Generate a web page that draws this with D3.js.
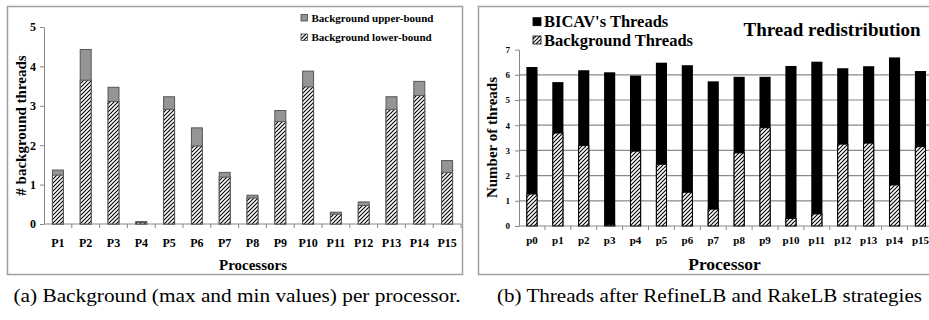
<!DOCTYPE html>
<html>
<head>
<meta charset="utf-8">
<script src="https://cdn.jsdelivr.net/npm/d3@7"></script>
<style>
  body { margin: 0; background: #fff; }
</style>
</head>
<body>
<div id="chart"></div>
<script>
// (a) background per processor
const leftCats = ["P1","P2","P3","P4","P5","P6","P7","P8","P9","P10","P11","P12","P13","P14","P15"];
const upperBound = [1.37, 4.43, 3.47, 0.06, 3.23, 2.44, 1.31, 0.73, 2.88, 3.88, 0.30, 0.56, 3.23, 3.62, 1.61];
const lowerBound = [1.24, 3.65, 3.11, 0.04, 2.91, 1.98, 1.19, 0.66, 2.60, 3.48, 0.25, 0.47, 2.91, 3.26, 1.31];
const leftTicks = [0, 1, 2, 3, 4, 5];

// (b) threads after RefineLB and RakeLB
const rightCats = ["p0","p1","p2","p3","p4","p5","p6","p7","p8","p9","p10","p11","p12","p13","p14","p15"];
const totalThreads = [6.31, 5.71, 6.18, 6.10, 5.97, 6.48, 6.38, 5.74, 5.92, 5.92, 6.35, 6.52, 6.26, 6.34, 6.69, 6.15];
const backgroundThreads = [1.27, 3.69, 3.19, 0.05, 2.97, 2.45, 1.34, 0.67, 2.90, 3.90, 0.30, 0.48, 3.25, 3.29, 1.63, 3.15];
const rightTicks = [0, 1, 2, 3, 4, 5, 6, 7];

const serif = "'Liberation Serif', 'Times New Roman', serif";

const svg = d3.select("#chart").append("svg")
    .attr("width", 929)
    .attr("height", 320);

// hatch pattern for the "lower-bound" / "background" parts
svg.append("defs").append("pattern")
    .attr("id", "hatch")
    .attr("patternUnits", "userSpaceOnUse")
    .attr("width", 4)
    .attr("height", 4)
    .call(p => {
        p.append("rect").attr("width", 4).attr("height", 4).attr("fill", "#fff");
        p.append("path")
            .attr("d", "M-1,1 l2,-2 M0,4 l4,-4 M3,5 l2,-2")
            .attr("stroke", "#000")
            .attr("stroke-width", 1.1);
    });

// panel frames
svg.append("rect").attr("x", 7.5).attr("y", 6.5).attr("width", 455).attr("height", 268)
    .attr("fill", "none").attr("stroke", "#a0a0a0").attr("stroke-width", 1.5);
svg.append("rect").attr("x", 478.5).attr("y", 6.5).attr("width", 470).attr("height", 268)
    .attr("fill", "none").attr("stroke", "#a0a0a0").attr("stroke-width", 1.5);

// ---------- left chart ----------
const lx = d3.scaleBand().domain(leftCats).range([44, 461]).paddingInner(0.57).paddingOuter(0.285);
const ly = d3.scaleLinear().domain([0, 5]).range([224, 27]);
const left = svg.append("g");

left.append("g")
    .attr("transform", "translate(44,0)")
    .call(d3.axisLeft(ly).tickValues(leftTicks).tickSize(4).tickPadding(4).tickSizeOuter(0).tickFormat(d3.format("d")))
    .call(g => g.selectAll("line,path").attr("stroke", "#888"))
    .selectAll("text")
    .attr("font-size", "12px").attr("font-weight", "bold").attr("fill", "#000");

// x axis with ticks between categories
const lAxis = left.append("g").attr("transform", "translate(0,224)");
lAxis.append("line").attr("x1", 44).attr("x2", 461).attr("stroke", "#888");
lAxis.selectAll(".tk").data(leftCats).enter().append("line")
    .attr("x1", d => lx(d) - lx.step() * 0.285 + lx.step())
    .attr("x2", d => lx(d) - lx.step() * 0.285 + lx.step())
    .attr("y1", 0).attr("y2", 4).attr("stroke", "#888");
lAxis.selectAll("text").data(leftCats).enter().append("text")
    .attr("x", d => lx(d) + lx.bandwidth() / 2)
    .attr("y", 23)
    .attr("text-anchor", "middle")
    .attr("font-size", "12px").attr("font-weight", "bold")
    .text(d => d);

left.selectAll(".upper").data(leftCats).enter().append("rect")
    .attr("x", d => lx(d) + 0.5)
    .attr("y", (d, i) => ly(upperBound[i]))
    .attr("width", lx.bandwidth() - 1)
    .attr("height", (d, i) => ly(0) - ly(upperBound[i]))
    .attr("fill", "#959595").attr("stroke", "#555").attr("stroke-width", 1);

left.selectAll(".lower").data(leftCats).enter().append("rect")
    .attr("x", d => lx(d) + 0.5)
    .attr("y", (d, i) => ly(lowerBound[i]))
    .attr("width", lx.bandwidth() - 1)
    .attr("height", (d, i) => ly(0) - ly(lowerBound[i]))
    .attr("fill", "url(#hatch)").attr("stroke", "#555").attr("stroke-width", 1);

left.append("text")
    .attr("transform", "translate(26,125.5) rotate(-90)")
    .attr("text-anchor", "middle")
    .attr("font-size", "15px").attr("font-weight", "bold")
    .text("# background threads");

left.append("text")
    .attr("x", 253).attr("y", 270)
    .attr("text-anchor", "middle")
    .attr("font-size", "15px").attr("font-weight", "bold")
    .text("Processors");

// legend
[["#959595", "Background upper-bound", 18], ["url(#hatch)", "Background lower-bound", 37.5]].forEach(([fill, label, cy]) => {
    left.append("rect").attr("x", 301).attr("y", cy - 3.5).attr("width", 6.5).attr("height", 6.5)
        .attr("fill", fill).attr("stroke", "#444").attr("stroke-width", 0.8);
    left.append("text").attr("x", 311.5).attr("y", cy + 3.8)
        .attr("font-size", "11px").attr("font-weight", "bold").text(label);
});

// ---------- right chart ----------
const rx = d3.scaleBand().domain(rightCats).range([519, 933.4]).paddingInner(0.57).paddingOuter(0.285);
const ry = d3.scaleLinear().domain([0, 7]).range([226, 49.6]);
const right = svg.append("g");

// gridlines (none at the top value)
right.selectAll(".grid").data(rightTicks.filter(t => t > 0 && t < 7)).enter().append("line")
    .attr("x1", 519).attr("x2", 935)
    .attr("y1", d => ry(d)).attr("y2", d => ry(d))
    .attr("stroke", "#8a8a8a").attr("stroke-width", 1.2);

right.append("g")
    .attr("transform", "translate(519,0)")
    .call(d3.axisLeft(ry).tickValues(rightTicks).tickSize(4).tickPadding(5).tickSizeOuter(0).tickFormat(d3.format("d")))
    .call(g => g.selectAll("line,path").attr("stroke", "#888"))
    .selectAll("text")
    .attr("font-size", "9px").attr("font-weight", "bold").attr("fill", "#000");

const rAxis = right.append("g").attr("transform", "translate(0,226)");
rAxis.append("line").attr("x1", 519).attr("x2", 935).attr("stroke", "#888").attr("stroke-width", 1.2);
rAxis.selectAll(".tk").data(rightCats).enter().append("line")
    .attr("x1", d => rx(d) - rx.step() * 0.285 + rx.step())
    .attr("x2", d => rx(d) - rx.step() * 0.285 + rx.step())
    .attr("y1", 0).attr("y2", 4).attr("stroke", "#888");
rAxis.selectAll("text").data(rightCats).enter().append("text")
    .attr("x", d => rx(d) + rx.bandwidth() / 2)
    .attr("y", 18)
    .attr("text-anchor", "middle")
    .attr("font-size", "11px").attr("font-weight", "bold")
    .text(d => d);

right.selectAll(".total").data(rightCats).enter().append("rect")
    .attr("x", d => rx(d))
    .attr("y", (d, i) => ry(totalThreads[i]))
    .attr("width", rx.bandwidth())
    .attr("height", (d, i) => ry(0) - ry(totalThreads[i]))
    .attr("fill", "#000");

right.selectAll(".bg").data(rightCats).enter().append("rect")
    .attr("x", d => rx(d) + 0.5)
    .attr("y", (d, i) => ry(backgroundThreads[i]))
    .attr("width", rx.bandwidth() - 1)
    .attr("height", (d, i) => ry(0) - ry(backgroundThreads[i]))
    .attr("fill", "url(#hatch)").attr("stroke", "#000").attr("stroke-width", 1);

right.append("text")
    .attr("transform", "translate(497,137.5) rotate(-90)")
    .attr("text-anchor", "middle")
    .attr("font-size", "15px").attr("font-weight", "bold")
    .text("Number of threads");

right.append("text")
    .attr("x", 724.5).attr("y", 270)
    .attr("text-anchor", "middle")
    .attr("font-size", "17.5px").attr("font-weight", "bold")
    .text("Processor");

right.append("text")
    .attr("x", 743.5).attr("y", 36)
    .attr("font-size", "19px").attr("font-weight", "bold")
    .text("Thread redistribution");

[["#000", "BICAV's Threads", 21.7], ["url(#hatch)", "Background Threads", 40]].forEach(([fill, label, cy]) => {
    right.append("rect").attr("x", 533).attr("y", cy - 4).attr("width", 8).attr("height", 8)
        .attr("fill", fill).attr("stroke", "#000").attr("stroke-width", 0.8);
    right.append("text").attr("x", 544).attr("y", cy + 5.5)
        .attr("font-size", "16.5px").attr("font-weight", "bold").text(label);
});

// captions
svg.append("text")
    .attr("x", 13.5).attr("y", 302)
    .attr("font-size", "19px")
    .attr("textLength", 447).attr("lengthAdjust", "spacingAndGlyphs")
    .text("(a) Background (max and min values) per processor.");
svg.append("text")
    .attr("x", 497).attr("y", 302)
    .attr("font-size", "19px")
    .attr("textLength", 425).attr("lengthAdjust", "spacingAndGlyphs")
    .text("(b) Threads after RefineLB and RakeLB strategies");

// every label in Times-like serif
svg.selectAll("text").style("font-family", serif);
</script>
</body>
</html>
